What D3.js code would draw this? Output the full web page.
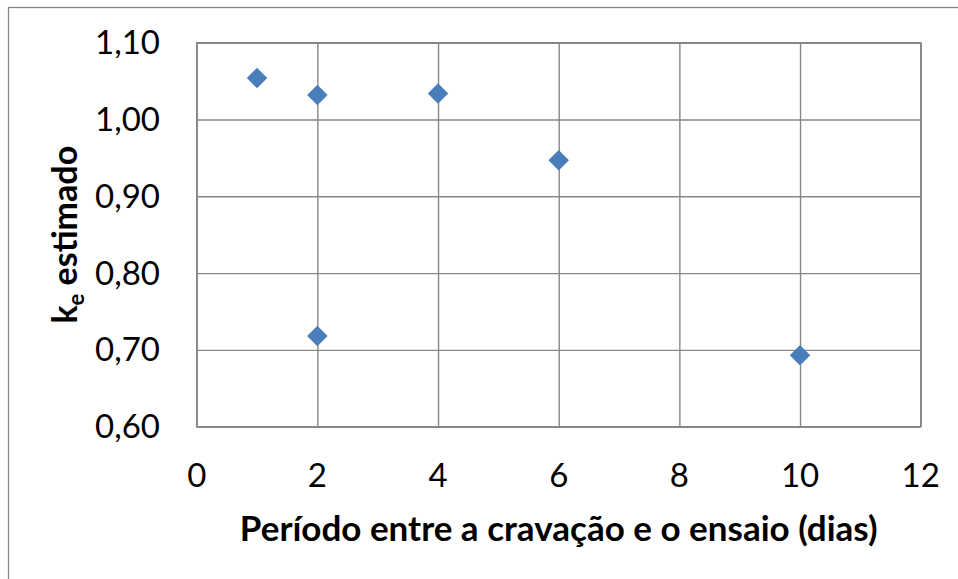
<!DOCTYPE html>
<html>
<head>
<meta charset="utf-8">
<script src="https://cdn.jsdelivr.net/npm/d3@7"></script>
<style>
  html, body { margin: 0; padding: 0; background: #fff; }
  svg { display: block; }
  text { font-family: Lato, "Open Sans", sans-serif; fill: #000; }
</style>
</head>
<body>
<svg id="chart" width="958" height="579"></svg>
<script>
// Dias entre a cravação e o ensaio, e k_e estimado correspondente
const dias = [1, 2, 4, 6, 2, 10];
const keEstimado = [1.054, 1.032, 1.034, 0.947, 0.718, 0.693];
const xTicks = [0, 2, 4, 6, 8, 10, 12];
const yTicks = [0.60, 0.70, 0.80, 0.90, 1.00, 1.10];

const svg = d3.select("#chart");
const W = 958, H = 579;
const plot = { left: 196.7, top: 42.7, right: 920.7, bottom: 426.7 };
const gridColor = "#878787";

// outer chart frame
svg.append("rect")
  .attr("x", 8.5).attr("y", 7.5)
  .attr("width", W + 10).attr("height", H + 10)
  .attr("fill", "#fff").attr("stroke", "#888").attr("stroke-width", 1.3);

const x = d3.scaleLinear().domain([0, 12]).range([plot.left, plot.right]);
const y = d3.scaleLinear().domain([0.6, 1.1]).range([plot.bottom, plot.top]);

const fmt = v => d3.format(".2f")(v).replace(".", ",");

// gridlines via axes with full-length ticks
svg.append("g")
  .attr("transform", `translate(0,${plot.bottom})`)
  .call(d3.axisBottom(x).tickValues(xTicks).tickSize(-(plot.bottom - plot.top)).tickFormat(""))
  .call(g => g.select(".domain").remove())
  .call(g => g.selectAll("line").attr("stroke", gridColor).attr("stroke-width", 1.4));

svg.append("g")
  .attr("transform", `translate(${plot.left},0)`)
  .call(d3.axisLeft(y).tickValues(yTicks).tickSize(-(plot.right - plot.left)).tickFormat(""))
  .call(g => g.select(".domain").remove())
  .call(g => g.selectAll("line").attr("stroke", gridColor).attr("stroke-width", 1.4));

// plot border
svg.append("rect")
  .attr("x", plot.left).attr("y", plot.top)
  .attr("width", plot.right - plot.left).attr("height", plot.bottom - plot.top)
  .attr("fill", "none").attr("stroke", gridColor).attr("stroke-width", 1.4);

// tick labels
svg.append("g")
  .selectAll("text").data(yTicks).join("text")
  .attr("x", 160).attr("y", d => y(d))
  .attr("dy", "0.35em")
  .attr("text-anchor", "end")
  .attr("font-size", 33)
  .text(fmt);

svg.append("g")
  .selectAll("text").data(xTicks).join("text")
  .attr("x", d => x(d)).attr("y", 487)
  .attr("text-anchor", "middle")
  .attr("font-size", 33)
  .text(d => d);

// axis titles
svg.append("text")
  .attr("x", (plot.left + plot.right) / 2).attr("y", 541)
  .attr("text-anchor", "middle")
  .attr("font-size", 35).attr("font-weight", "bold")
  .text("Período entre a cravação e o ensaio (dias)");

const yt = svg.append("text")
  .attr("transform", `translate(77,${(plot.top + plot.bottom) / 2}) rotate(-90)`)
  .attr("text-anchor", "middle")
  .attr("font-size", 34).attr("font-weight", "bold");
yt.append("tspan").text("k");
yt.append("tspan").attr("font-size", 22).attr("dy", 7).text("e");
yt.append("tspan").attr("dy", -7).text(" estimado");

// data markers
const diamond = d3.symbol().type(d3.symbolSquare).size(210);
svg.append("g")
  .selectAll("path").data(dias.map((d, i) => [d, keEstimado[i]])).join("path")
  .attr("transform", d => `translate(${x(d[0])},${y(d[1])}) rotate(45)`)
  .attr("d", diamond)
  .attr("fill", "#4a7ebb");
</script>
</body>
</html>
